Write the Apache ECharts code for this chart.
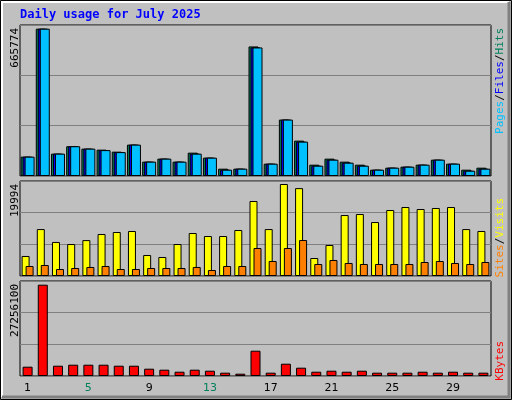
<!DOCTYPE html>
<html><head><meta charset="utf-8">
<script src="https://cdn.jsdelivr.net/npm/echarts@6/dist/echarts.min.js"></script>
<style>html,body{margin:0;padding:0;background:#c0c0c0}#c{width:512px;height:400px}</style>
</head><body><div id="c"></div>
<script>
// Daily usage for July 2025 (webalizer style)
const days = ['1','2','3','4','5','6','7','8','9','10','11','12','13','14','15','16','17','18','19','20','21','22','23','24','25','26','27','28','29','30','31'];
const weekend = ['5','6','12','13','19','20','26','27'];
const hits = [87400,665774,101000,134500,123600,119100,110000,141800,64800,78400,64800,105500,82900,33100,33100,585600,55700,255000,159900,51200,78400,64800,51200,28500,37600,42100,51200,73800,55700,28500,37600];
const files = [87400,665774,101000,134500,123600,117000,108000,141800,64800,78400,64800,101000,82900,28500,33100,581000,55700,255000,155300,46600,73800,60200,46600,28500,37600,42100,51200,73800,55700,24000,33100];
const pages = [87400,665774,101000,134500,123600,117000,108000,141800,64800,78400,64800,101000,82900,28500,33100,581000,55700,255000,155300,46600,73800,60200,46600,28500,37600,42100,51200,73800,55700,24000,33100];
const visits = [4350,10200,7400,6950,7800,9130,9560,9780,4560,4130,6950,9340,8690,8690,10000,16300,10200,19994,19100,3910,6740,13250,13470,11730,14340,14990,14560,14780,14990,10200,9780];
const sites = [2170,2390,1520,1740,1960,2170,1520,1520,1740,1740,1740,1960,1300,2170,2170,6080,3260,6080,7820,2610,3480,2830,2610,2610,2610,2610,3040,3260,2830,2610,3040];
const kbytes = [2780000,27256100,3070000,3370000,3370000,3370000,3070000,3070000,2180000,1880000,1280000,1880000,1580000,990000,690000,7550000,990000,3670000,2480000,1280000,1580000,1280000,1580000,990000,990000,990000,1280000,990000,1280000,990000,990000];

const max1 = 682500, max2 = 20646, max3 = 28360000;
const grids = [
  { left: 20, width: 471, top: 25, height: 151 },
  { left: 20, width: 471, top: 181, height: 95 },
  { left: 20, width: 471, top: 281, height: 95 }
];
const bar = (name, data, color, idx, width, gap) => ({
  name, type: 'bar', data, xAxisIndex: idx, yAxisIndex: idx,
  barWidth: width, barGap: gap, animation: false,
  itemStyle: { color, borderColor: '#000', borderWidth: 1 }
});
const mono = 'DejaVu Sans Mono';
function vText(x, y, rich, text) {
  return { type: 'text', x, y, rotation: Math.PI / 2,
    style: { text, rich, align: 'right', verticalAlign: 'middle', font: '11px ' + mono } };
}

const chart = echarts.init(document.getElementById('c'));
chart.setOption({
  backgroundColor: '#c0c0c0',
  grid: grids.map(g => Object.assign({ show: true, borderColor: '#000', borderWidth: 1, backgroundColor: '#c0c0c0' }, g)),
  xAxis: [0, 1, 2].map(i => ({
    type: 'category', data: days, gridIndex: i,
    axisLine: { show: false }, axisTick: { show: false },
    axisLabel: i < 2 ? { show: false } : {
      margin: 7, fontFamily: 'DejaVu Sans', fontSize: 11,
      formatter: v => weekend.includes(v) ? '{w|' + v + '}' : '{n|' + v + '}',
      rich: { w: { color: '#00805c', fontSize: 11 }, n: { color: '#000', fontSize: 11 } }
    }
  })),
  yAxis: [max1, max2, max3].map((m, i) => ({
    type: 'value', gridIndex: i, min: 0, max: m, interval: m / 3,
    axisLabel: { show: false }, axisLine: { show: false }, axisTick: { show: false },
    splitLine: { lineStyle: { color: '#808080', width: 1 } }
  })),
  series: [
    bar('Hits', hits, '#00805c', 0, 10, '-80%'),
    bar('Files', files, '#0000ff', 0, 10, '-80%'),
    bar('Pages', pages, '#00c0ff', 0, 10, '-80%'),
    bar('Visits', visits, '#ffff00', 1, 8, '-50%'),
    bar('Sites', sites, '#ff8000', 1, 8, '-50%'),
    bar('KBytes', kbytes, '#ff0000', 2, 10, '0%')
  ],
  graphic: [
    { type: 'rect', shape: { x: 0.5, y: 0.5, width: 511, height: 399 }, style: { fill: 'none', stroke: '#000' } },
    { type: 'polyline', shape: { points: [[2, 397], [2, 2], [509, 2]] }, style: { fill: 'none', stroke: '#fff', lineWidth: 2 } },
    { type: 'polyline', shape: { points: [[509, 2], [509, 397], [2, 397]] }, style: { fill: 'none', stroke: '#808080', lineWidth: 3 } },
    { type: 'text', x: 20, y: 15, style: { text: 'Daily usage for July 2025', fill: '#0000ff', font: 'bold 12px ' + mono, verticalAlign: 'middle' } },
    vText(15, 28, {}, '665774'),
    vText(15, 184, {}, '19994'),
    vText(15, 284, {}, '27256100'),
    vText(500, 28, { p: { fill: '#00c0ff' }, f: { fill: '#0000ff' }, h: { fill: '#00805c' }, s: { fill: '#000' } },
      '{p|Pages}{s|/}{f|Files}{s|/}{h|Hits}'),
    vText(500, 198, { a: { fill: '#ff8000' }, b: { fill: '#ffff00' }, s: { fill: '#000' } },
      '{a|Sites}{s|/}{b|Visits}'),
    vText(500, 341, { r: { fill: '#ff0000' } }, '{r|KBytes}')
  ]
});
</script></body></html>
